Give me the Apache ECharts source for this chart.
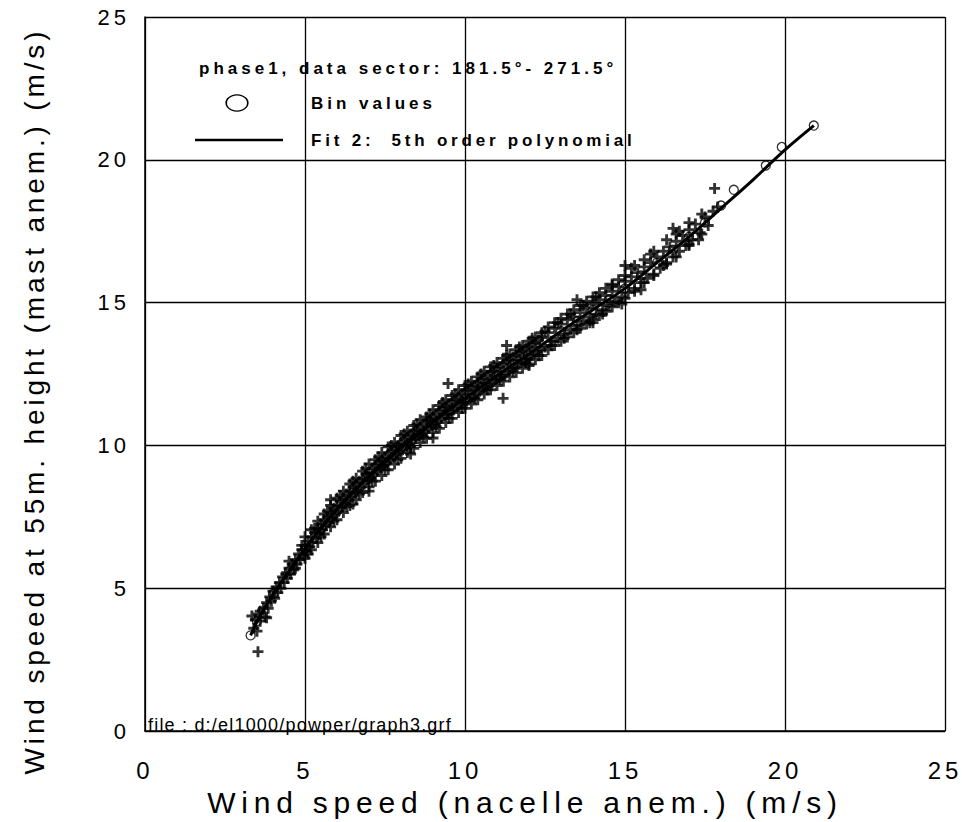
<!DOCTYPE html>
<html>
<head>
<meta charset="utf-8">
<script src="https://cdn.jsdelivr.net/npm/echarts@6/dist/echarts.min.js"></script>
<style>html,body{margin:0;padding:0;background:#fff}#chart{width:962px;height:822px}</style>
</head>
<body>
<div id="chart"></div>
<script>
// ---- data ----
var xTicks = [0, 5, 10, 15, 20, 25];
var yTicks = [0, 5, 10, 15, 20, 25];

// Bin values (circles)
var binX = [3.3,3.5,4,4.5,5,5.5,6,6.5,7,7.5,8,8.5,9,9.5,10,10.5,11,11.5,12,12.5,13,13.5,14,14.5,15,15.5,16,16.5,17,17.5,18,18.4,19.4,19.9,20.9];
var binY = [3.35,3.85,4.8,5.6,6.4,7.1,7.75,8.35,8.9,9.4,9.9,10.35,10.8,11.25,11.65,12.05,12.45,12.85,13.2,13.6,14.0,14.35,14.75,15.1,15.5,15.95,16.4,16.85,17.3,17.8,18.4,18.95,19.8,20.45,21.2];

// Fit 2: 5th order polynomial (sampled from the drawn curve)
var fitX = [3.3,3.6,4,4.5,5,5.5,6,6.5,7,7.5,8,8.5,9,9.5,10,11,12,13,14,15,16,17,18,19,20,20.9];
var fitY = [3.35,4.05,4.8,5.6,6.4,7.1,7.75,8.35,8.9,9.4,9.9,10.35,10.8,11.25,11.65,12.45,13.2,14.0,14.75,15.5,16.4,17.3,18.3,19.3,20.35,21.2];

// Raw samples ("+" markers), core of the cloud
var samples = [
[3.4,3.6],[3.45,3.9],[3.5,3.5],[3.55,4.1],[3.6,3.85],[3.6,4.2],[3.7,4.3],[3.75,4.0],[3.8,4.5],[3.85,4.3],[3.9,4.7],[3.95,4.55],
[4.0,4.9],[4.05,4.65],[4.1,5.05],[4.15,4.85],[4.2,5.2],[4.25,5.0],[4.3,5.4],[4.35,5.2],[4.4,5.5],[4.45,5.35],[4.5,5.7],[4.55,5.5],
[4.6,5.85],[4.65,5.65],[4.7,6.0],[4.75,5.85],[4.8,6.2],[4.85,6.0],[4.9,6.35],[4.95,6.15],[5.0,6.5],[5.05,6.3],[5.1,6.65],[5.15,6.45],
[5.2,6.8],[5.25,6.6],[5.3,6.95],[5.35,6.75],[5.4,7.1],[5.45,6.9],[5.5,7.25],[5.55,7.05],[5.6,7.4],[5.65,7.2],[5.7,7.5],[5.75,7.3],
[5.8,7.65],[5.85,7.45],[5.9,7.8],[5.95,7.6],[6.0,7.9],[6.05,7.7],[6.1,8.05],[6.15,7.85],[6.2,8.15],[6.25,7.95],[6.3,8.3],[6.35,8.1],
[6.4,8.4],[6.45,8.2],[6.5,8.55],[6.55,8.35],[6.6,8.65],[6.65,8.4],[6.7,8.75],[6.75,8.55],[6.8,8.85],[6.85,8.65],[6.9,9.0],[6.95,8.8],
[7.0,9.05],[7.05,8.85],[7.1,9.2],[7.15,9.0],[7.2,9.3],[7.25,9.1],[7.3,9.4],[7.35,9.2],[7.4,9.5],[7.45,9.3],[7.5,9.6],[7.55,9.4],
[7.6,9.7],[7.65,9.5],[7.7,9.8],[7.75,9.6],[7.8,9.9],[7.85,9.7],[7.9,10.0],[7.95,9.8],[8.0,10.1],[8.05,9.85],[8.1,10.2],[8.15,10.0],
[8.2,10.3],[8.25,10.05],[8.3,10.4],[8.35,10.2],[8.4,10.5],[8.45,10.25],[8.5,10.55],[8.55,10.35],[8.6,10.65],[8.65,10.4],[8.7,10.75],[8.75,10.5],
[8.8,10.85],[8.85,10.6],[8.9,10.9],[8.95,10.7],[9.0,11.0],[9.05,10.75],[9.1,11.1],[9.15,10.85],[9.2,11.2],[9.25,10.95],[9.3,11.3],[9.35,11.05],
[9.4,11.35],[9.45,11.1],[9.5,11.45],[9.55,11.2],[9.6,11.55],[9.65,11.25],[9.7,11.6],[9.75,11.35],[9.8,11.7],[9.85,11.45],[9.9,11.8],[9.95,11.5],
[10.0,11.9],[10.05,11.55],[10.1,11.95],[10.15,11.65],[10.2,12.05],[10.25,11.7],[10.3,12.1],[10.35,11.8],[10.4,12.2],[10.45,11.9],[10.5,12.3],[10.55,12.0],
[10.6,12.35],[10.65,12.05],[10.7,12.45],[10.75,12.15],[10.8,12.55],[10.85,12.2],[10.9,12.6],[10.95,12.3],[11.0,12.7],[11.05,12.35],[11.1,12.75],[11.15,12.45],
[11.2,12.85],[11.25,12.5],[11.3,12.95],[11.35,12.6],[11.4,13.0],[11.45,12.7],[11.5,13.1],[11.55,12.75],[11.6,13.15],[11.65,12.85],[11.7,13.25],[11.75,12.9],
[11.8,13.3],[11.85,13.0],[11.9,13.4],[11.95,13.05],[12.0,13.45],[12.05,13.15],[12.1,13.55],[12.15,13.2],[12.2,13.6],[12.25,13.3],[12.3,13.7],[12.35,13.35],
[12.4,13.8],[12.5,13.45],[12.6,13.95],[12.7,13.65],[12.8,14.1],[12.9,13.75],[13.0,14.25],[13.1,13.9],[13.2,14.4],[13.3,14.05],[13.4,14.5],[13.5,14.2],
[13.6,14.65],[13.7,14.35],[13.8,14.8],[13.9,14.5],[14.0,14.95],[14.1,14.6],[14.2,15.1],[14.3,14.75],[14.4,15.25],[14.5,14.9],[14.6,15.4],[14.7,15.05],
[14.8,15.55],[14.9,15.2],[15.0,15.75],[15.1,15.35],[15.2,15.9],[15.3,15.5],[15.4,16.05],[15.5,15.7],[15.6,16.25],[15.7,15.85],[15.8,16.4],[15.9,16.0],
[16.0,16.6],[16.1,16.2],[16.2,16.8],[16.3,16.4],[16.4,16.95],[16.5,16.6],[16.6,17.15],[16.7,16.8],[16.8,17.35],[16.9,17.0],[17.0,17.55],[17.1,17.2],
[17.2,17.75],[17.35,17.45],[17.5,18.0],[17.6,17.7],[17.75,18.2],[17.9,18.35],
[4.5,5.95],[4.7,5.7],[4.9,6.5],[5.1,6.2],[5.3,7.1],[5.5,6.8],[5.7,7.7],[5.9,7.35],[6.1,8.25],[6.3,7.85],[6.5,8.75],[6.7,8.3],
[6.9,9.2],[7.1,8.75],[7.3,9.6],[7.5,9.15],[7.7,10.0],[7.9,9.5],[8.1,10.4],[8.3,9.95],[8.5,10.75],[8.7,10.3],[8.9,11.1],[9.1,10.65],
[9.3,11.5],[9.5,10.95],[9.7,11.8],[9.9,11.3],[10.1,12.15],[10.3,11.65],[10.5,12.5],[10.7,11.95],[10.9,12.8],[11.1,12.3],[11.3,13.15],[11.5,12.6],
[11.7,13.45],[11.9,12.9],[12.1,13.75],[12.3,13.15],[12.5,14.0],[12.7,13.5],[12.9,14.3],[13.1,13.75],[13.3,14.6],[13.5,14.05],[13.7,14.9],[13.9,14.3],
[14.1,15.2],[14.3,14.6],[14.6,15.6],[14.9,14.95],[15.2,16.2],[15.5,15.45],[15.8,16.7],[16.2,16.3],[16.7,17.5],[17.0,17.0],
[3.53,2.78],[3.34,4.03],[3.8,3.97],[9.47,12.17],[11.19,11.65],[9.0,10.26],[8.3,9.7],[11.3,13.5],[7.0,8.4],[12.0,12.8],
[14.0,14.3],[16.5,17.6],[15.0,16.3],[5.8,8.1],[6.5,7.95],[13.5,15.1],[17.8,19.0],[17.3,17.2]
];
// upper edge of the cloud
var samplesHigh = [
[5.0,6.8],[5.2,7.05],[5.4,7.35],[5.6,7.6],[5.8,7.9],[6.0,8.15],[6.2,8.4],[6.4,8.65],[6.6,8.85],[6.8,9.1],[7.0,9.35],[7.2,9.5],
[7.4,9.75],[7.6,9.95],[7.8,10.1],[8.0,10.35],[8.2,10.5],[8.4,10.7],[8.6,10.9],[8.8,11.0],[9.0,11.25],[9.2,11.4],[9.4,11.6],[9.6,11.75],
[9.8,11.95],[10.0,12.1],[10.2,12.25],[10.4,12.4],[10.6,12.6],[10.8,12.75],[11.0,12.9],[11.2,13.05],[11.4,13.2],[11.6,13.35],[11.8,13.5],[12.0,13.65],
[12.2,13.8],[12.4,13.95],[12.6,14.15],[12.8,14.3],[13.0,14.45],[13.2,14.6],[13.4,14.75],[13.6,14.9],[13.8,15.05],[14.0,15.2],[14.2,15.35],[14.4,15.5],
[14.6,15.65],[14.8,15.8],[15.0,15.95],[15.3,16.3],[15.6,16.5],[15.9,16.8],[16.3,17.2],[16.6,17.4],[17.0,17.8],[17.4,18.1]
];
// lower edge of the cloud
var samplesLow = [
[5.0,6.05],[5.2,6.35],[5.4,6.6],[5.6,6.9],[5.8,7.15],[6.0,7.4],[6.2,7.65],[6.4,7.9],[6.6,8.1],[6.8,8.35],[7.0,8.55],[7.2,8.75],
[7.4,8.95],[7.6,9.15],[7.8,9.35],[8.0,9.55],[8.2,9.75],[8.4,9.9],[8.6,10.1],[8.8,10.25],[9.0,10.45],[9.2,10.6],[9.4,10.8],[9.6,10.95],
[9.8,11.15],[10.0,11.3],[10.2,11.45],[10.4,11.6],[10.6,11.8],[10.8,11.95],[11.0,12.1],[11.2,12.25],[11.4,12.4],[11.6,12.55],[11.8,12.7],[12.0,12.85],
[12.2,13.0],[12.4,13.15],[12.6,13.35],[12.8,13.5],[13.0,13.65],[13.2,13.8],[13.4,13.95],[13.6,14.1],[13.8,14.25],[14.0,14.4],[14.2,14.55],[14.4,14.7],
[14.6,14.85],[14.8,15.0],[15.0,15.15],[15.3,15.4],[15.6,15.7],[15.9,15.95],[16.3,16.35],[16.6,16.6],[17.0,17.05],[17.4,17.4]
];

var plusPath = 'path://M-1,-0.26H1V0.26H-1Z M-0.26,-1H0.26V1H-0.26Z';

// extra letter spacing (px) per text, to match the spaced-out lettering of the original
var spacing = {
  'phase1, data sector: 181.5°- 271.5°': 4,
  'Bin values': 4,
  'Fit 2:  5th order polynomial': 3.8,
  'file : d:/el1000/powper/graph3.grf': 1.2,
  'Wind speed (nacelle anem.) (m/s)': 5.8,
  'Wind speed at 55m. height (mast anem.) (m/s)': 3.85
};
var tickSpacing = 4;

var chart = echarts.init(document.getElementById('chart'), null, { renderer: 'svg' });
var F = '"Liberation Sans", Arial, sans-serif';
var plusSeries = function (name, data) {
  return { name: name, type: 'scatter', data: data, symbol: plusPath, symbolSize: 11, itemStyle: { color: '#000' }, z: 3 };
};
chart.setOption({
  animation: false,
  backgroundColor: '#fff',
  grid: { left: 145, right: 17, top: 17, bottom: 86, containLabel: false },
  xAxis: {
    type: 'value', min: xTicks[0], max: xTicks[xTicks.length - 1], interval: 5,
    name: 'Wind speed (nacelle anem.) (m/s)', nameLocation: 'middle', nameGap: 54,
    nameTextStyle: { fontSize: 30, color: '#000', fontFamily: F, padding: [0, 40, 0, 0] },
    axisLine: { show: true, lineStyle: { color: '#000', width: 1.5 } },
    axisTick: { show: false },
    axisLabel: { color: '#000', fontSize: 24, margin: 27, fontFamily: F },
    splitLine: { show: true, lineStyle: { color: '#000', width: 1.3 } }
  },
  yAxis: {
    type: 'value', min: yTicks[0], max: yTicks[yTicks.length - 1], interval: 5,
    name: 'Wind speed at 55m. height (mast anem.) (m/s)', nameLocation: 'middle', nameGap: 97,
    nameTextStyle: { fontSize: 28, color: '#000', fontFamily: F, padding: [0, 54, 0, 0] },
    axisLine: { show: true, lineStyle: { color: '#000', width: 1.5 } },
    axisTick: { show: false },
    axisLabel: { color: '#000', fontSize: 22, margin: 15, fontFamily: F },
    splitLine: { show: true, lineStyle: { color: '#000', width: 1.3 } }
  },
  series: [
    plusSeries('samples', samples),
    plusSeries('samplesHigh', samplesHigh),
    plusSeries('samplesLow', samplesLow),
    {
      name: 'Fit 2:  5th order polynomial', type: 'line',
      data: fitX.map(function (x, i) { return [x, fitY[i]]; }),
      smooth: 0.4, showSymbol: false, symbol: 'none',
      lineStyle: { color: '#000', width: 3 }, z: 4
    },
    {
      name: 'Bin values', type: 'scatter',
      data: binX.map(function (x, i) { return [x, binY[i]]; }),
      symbol: 'circle', symbolSize: 9,
      itemStyle: { color: 'rgba(255,255,255,0)', borderColor: '#000', borderWidth: 1.3 }, z: 5
    }
  ],
  graphic: [
    { type: 'text', x: 199, y: 68, style: { text: 'phase1, data sector: 181.5°- 271.5°', font: 'bold 17px "Liberation Sans"', fill: '#000', verticalAlign: 'middle' } },
    { type: 'circle', x: 237, y: 103, scaleX: 1.35, shape: { cx: 0, cy: 0, r: 8 }, style: { fill: 'none', stroke: '#000', lineWidth: 1.2, strokeNoScale: true } },
    { type: 'text', x: 311, y: 103, style: { text: 'Bin values', font: 'bold 17px "Liberation Sans"', fill: '#000', verticalAlign: 'middle' } },
    { type: 'line', shape: { x1: 195, y1: 140, x2: 283, y2: 140 }, style: { stroke: '#000', lineWidth: 2.5 } },
    { type: 'text', x: 311, y: 140, style: { text: 'Fit 2:  5th order polynomial', font: 'bold 17px "Liberation Sans"', fill: '#000', verticalAlign: 'middle' } },
    { type: 'text', x: 148, y: 725, style: { text: 'file : d:/el1000/powper/graph3.grf', font: '18px "Liberation Sans"', fill: '#000', verticalAlign: 'middle' } }
  ]
});

function applySpacing() {
  var nodes = document.querySelectorAll('#chart text');
  for (var i = 0; i < nodes.length; i++) {
    var t = nodes[i];
    var s = t.textContent;
    var ls = spacing.hasOwnProperty(s) ? spacing[s] : (xTicks.indexOf(Number(s)) >= 0 ? tickSpacing : 0);
    if (ls) {
      t.setAttribute('letter-spacing', ls);
      t.style.letterSpacing = ls + 'px';
    }
  }
}
chart.on('finished', applySpacing);
applySpacing();
setTimeout(applySpacing, 50);
</script>
</body>
</html>
